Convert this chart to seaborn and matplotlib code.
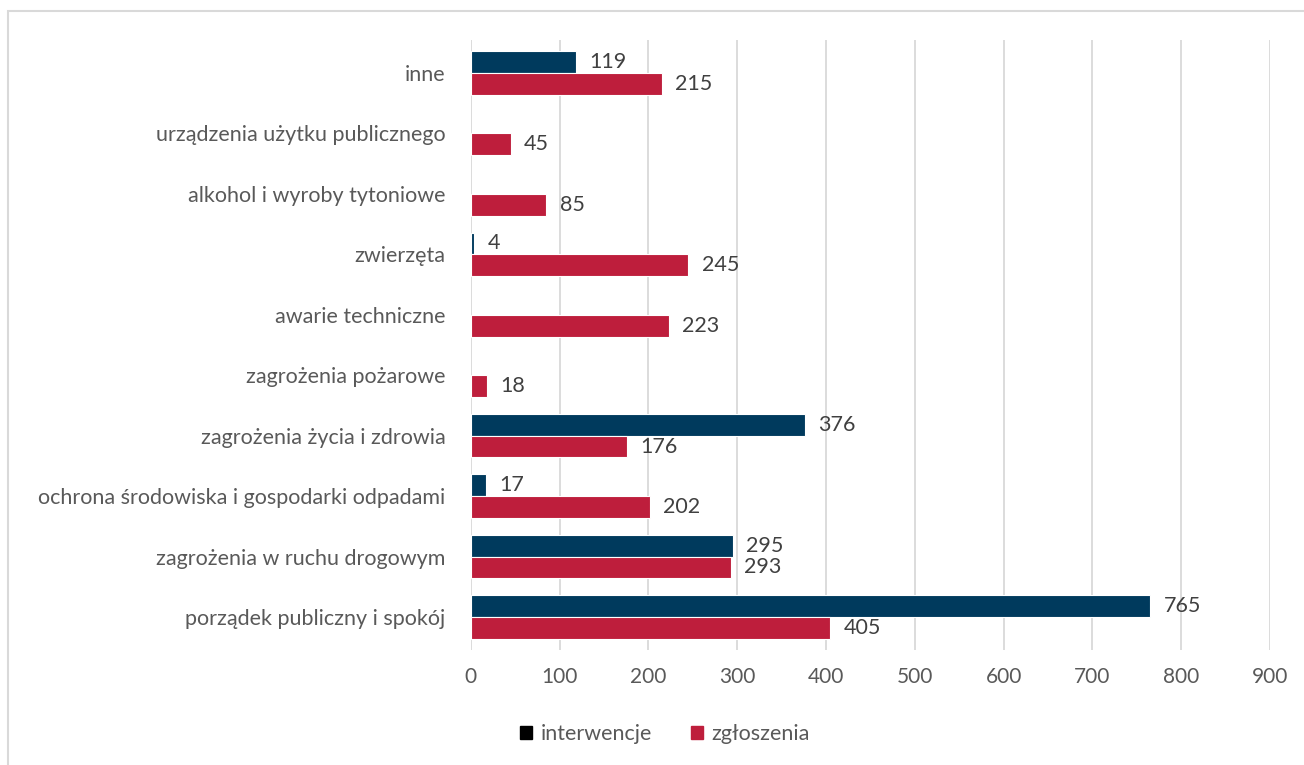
import numpy as np
import pandas as pd
import matplotlib.pyplot as plt
import matplotlib.patches as mpatches
import seaborn as sns

# dane
kategorie = ["inne", "urządzenia użytku publicznego", "alkohol i wyroby tytoniowe",
             "zwierzęta", "awarie techniczne", "zagrożenia pożarowe",
             "zagrożenia życia i zdrowia", "ochrona środowiska i gospodarki odpadami",
             "zagrożenia w ruchu drogowym", "porządek publiczny i spokój"]
interwencje = [119, np.nan, np.nan, 4, np.nan, np.nan, 376, 17, 295, 765]
zgloszenia = [215, 45, 85, 245, 223, 18, 176, 202, 293, 405]
serie = ["interwencje", "zgłoszenia"]
kolory = ["#003A5D", "#BE1E3C"]

df = pd.DataFrame({"kategoria": kategorie * 2,
                   "seria": [serie[0]] * len(kategorie) + [serie[1]] * len(kategorie),
                   "wartosc": interwencje + zgloszenia})

sns.set_style("white")
plt.rcParams["font.family"] = ["Lato", "DejaVu Sans"]

fig = plt.figure(figsize=(13.04, 7.65), dpi=100)
ax = fig.add_axes([0.361, 0.150, 0.613, 0.798])

sns.barplot(data=df, y="kategoria", x="wartosc", hue="seria", order=kategorie,
            hue_order=serie, palette=kolory, saturation=1, width=0.72, orient="h",
            edgecolor="white", linewidth=0.8, ax=ax, legend=False)

# etykiety danych
for cont in ax.containers:
    for bar in cont:
        w = bar.get_width()
        if np.isnan(w) or w == 0:
            continue
        ax.text(w + 15, bar.get_y() + bar.get_height() / 2, f"{int(w)}",
                va="center", ha="left", fontsize=15.5, color="#404040")

ax.set_xlim(0, 900)
ax.set_xticks(range(0, 1000, 100))
ax.set_ylim(9.55, -0.55)
ax.grid(axis="x", color="#D9D9D9", linewidth=1.3)
ax.set_axisbelow(True)
for s in ax.spines.values():
    s.set_visible(False)
ax.set_xlabel("")
ax.set_ylabel("")
ax.tick_params(axis="x", labelsize=15, labelcolor="#595959", length=0, pad=12)
ax.tick_params(axis="y", labelsize=15.5, labelcolor="#595959", length=0, pad=18)

# legenda
uchwyty = [mpatches.Patch(color="black", label=serie[0]),
           mpatches.Patch(color=kolory[1], label=serie[1])]
fig.legend(handles=uchwyty, loc="center", bbox_to_anchor=(0.51, 0.04), ncol=2,
           frameon=False, fontsize=15.5, labelcolor="#595959",
           handlelength=0.55, handleheight=0.55, handletextpad=0.4, columnspacing=1.8)

# ramka
fig.patches.append(mpatches.Rectangle((0.006, -0.01), 1.0, 0.996, transform=fig.transFigure,
                                      fill=False, edgecolor="#D9D9D9", linewidth=1.5))

fig.savefig("out.png", dpi=100)
